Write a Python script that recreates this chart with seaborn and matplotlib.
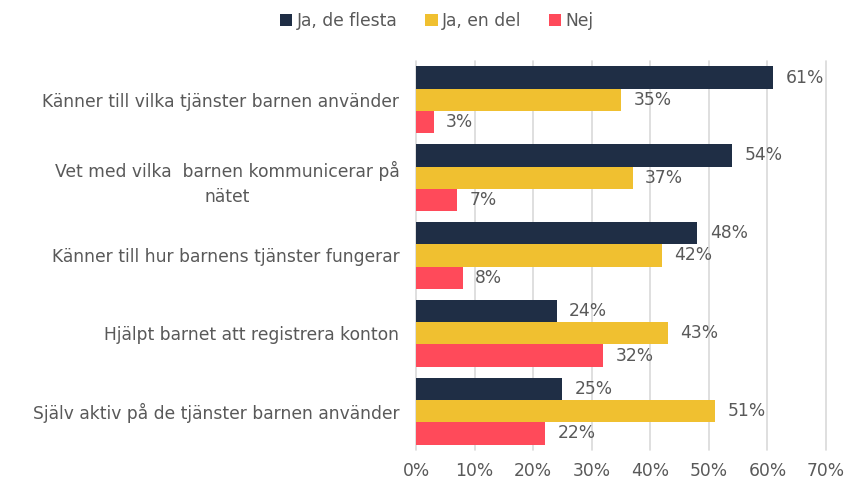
import matplotlib
matplotlib.use("Agg")
import matplotlib.pyplot as plt
import seaborn as sns
import pandas as pd
from matplotlib.ticker import FuncFormatter
from matplotlib.patches import Patch

categories = [
    "Känner till vilka tjänster barnen använder",
    "Vet med vilka  barnen kommunicerar på\nnätet",
    "Känner till hur barnens tjänster fungerar",
    "Hjälpt barnet att registrera konton",
    "Själv aktiv på de tjänster barnen använder",
]
series = ["Ja, de flesta", "Ja, en del", "Nej"]
ja_de_flesta = [61, 54, 48, 24, 25]
ja_en_del = [35, 37, 42, 43, 51]
nej = [3, 7, 8, 32, 22]
colors = ["#1F2E45", "#F0C030", "#FF4A5A"]

rows = []
for s, vals in zip(series, [ja_de_flesta, ja_en_del, nej]):
    for c, v in zip(categories, vals):
        rows.append({"cat": c, "serie": s, "val": v})
df = pd.DataFrame(rows)

sns.set_theme(style="white")
plt.rcParams["font.family"] = ["DejaVu Sans"]
text_color = "#595959"
fs = 12.3

fig = plt.figure(figsize=(8.48, 4.82), dpi=100)
ax = fig.add_axes([416/848, 1 - 450/482, (826-416)/848, (450-61)/482])

sns.barplot(data=df, y="cat", x="val", hue="serie", palette=colors,
            order=categories, hue_order=series, width=0.86, ax=ax,
            legend=False, saturation=1, orient="h", linewidth=0)

for cont in ax.containers:
    ax.bar_label(cont, labels=[f"{int(round(b.get_width()))}%" for b in cont],
                 padding=9, fontsize=fs, color=text_color)

ax.set_xlim(0, 70)
ax.set_xticks(range(0, 71, 10))
ax.xaxis.set_major_formatter(FuncFormatter(lambda v, p: f"{int(v)}%"))
ax.grid(axis="x", color="#D9D9D9", linewidth=1.2)
for gl in ax.get_xgridlines():
    gl.set_clip_on(False)
ax.set_axisbelow(True)
for sp in ax.spines.values():
    sp.set_visible(False)
ax.set_xlabel("")
ax.set_ylabel("")
ax.tick_params(axis="x", colors=text_color, labelsize=fs, length=0, pad=9)
ax.tick_params(axis="y", colors=text_color, labelsize=fs, length=0, pad=12)
for t in ax.get_yticklabels():
    t.set_multialignment("center")
    t.set_linespacing(1.5)

handles = [Patch(facecolor=c, edgecolor="none") for c in colors]
fig.legend(handles, series, loc="center", bbox_to_anchor=(0.515, 1 - 21/482),
           ncol=3, frameon=False, fontsize=fs, labelcolor=text_color,
           handlelength=0.75, handleheight=0.75, handletextpad=0.25,
           columnspacing=1.6)

fig.savefig("out.png", dpi=100)
